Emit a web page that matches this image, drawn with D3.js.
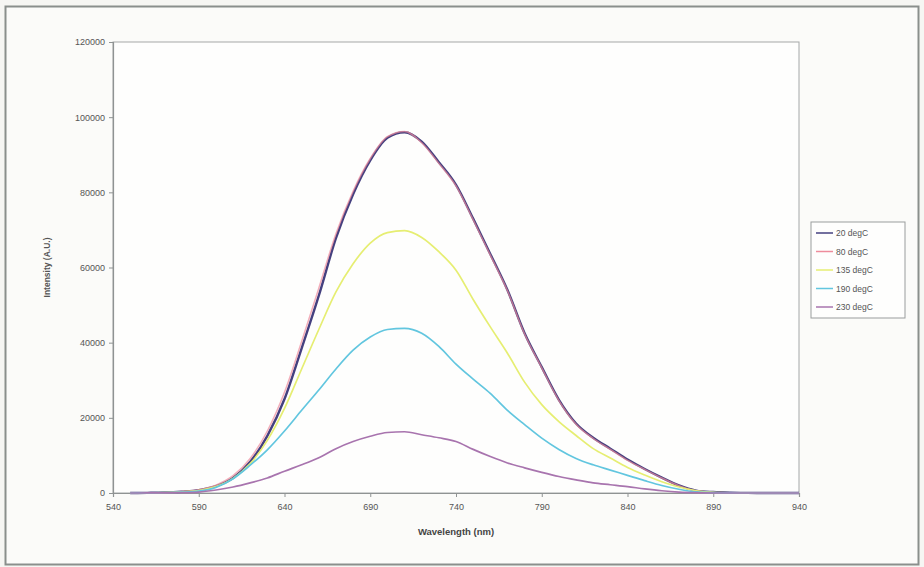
<!DOCTYPE html>
<html><head><meta charset="utf-8">
<script src="https://cdn.jsdelivr.net/npm/d3@7"></script>
<style>
html,body{margin:0;padding:0;background:#f6f6f3;}
svg{display:block;}
text{font-family:"Liberation Sans",Arial,sans-serif;}
</style></head>
<body>
<svg id="chart" width="924" height="567"></svg>
<script>
// ---- data ----
const wavelengths = [550,560,570,580,590,600,610,620,630,640,650,660,670,680,690,700,710,720,730,740,750,760,770,780,790,800,810,820,830,840,850,860,870,880,890,900,910,920,930,940];
const seriesNames = ["20 degC","80 degC","135 degC","190 degC","230 degC"];
const deg20  = [0,40,120,350,750,1800,4000,8300,15200,25000,38500,52500,67800,79500,88500,94500,96000,93500,88000,82000,73000,63600,54000,42500,33500,24800,18500,14700,11800,8900,6400,4100,2000,650,250,80,20,0,0,0];
const deg80  = [0,50,150,420,900,2100,4600,9200,16500,26800,40300,54500,69000,80300,89000,94800,96200,93200,87700,81700,72700,63300,53800,42300,33300,24600,18300,14500,11600,8700,6300,4000,1950,620,230,70,15,0,0,0];
const deg135 = [0,40,110,300,650,1700,3900,7800,14000,22500,33000,43500,53500,61000,66500,69300,69800,68000,64200,59300,51500,44200,37200,29500,23500,19000,15300,11800,9300,6800,4800,3000,1600,600,150,30,0,0,0,0];
const deg190 = [0,30,90,220,500,1500,3800,7400,11500,16500,22000,27400,33000,38000,41500,43500,43800,42500,39000,34300,30300,26500,22000,18200,14600,11600,9200,7500,6100,4700,3300,2000,1000,300,80,10,0,0,0,0];
const deg230 = [0,10,30,100,250,800,1600,2700,4000,5800,7500,9400,11800,13700,15100,16100,16300,15500,14700,13700,11600,9700,8000,6700,5500,4400,3500,2700,2200,1700,1100,600,250,80,0,0,0,0,0,0];
const seriesValues = [deg20,deg80,deg135,deg190,deg230];
const seriesColors = ["#45407f","#ee8c9c","#e6ee72","#62c6df","#a874ae"];
const xTicks = [540,590,640,690,740,790,840,890,940];
const yTicks = [0,20000,40000,60000,80000,100000,120000];

// ---- layout ----
const svg = d3.select("#chart");
const W = 924, H = 567;
const plot = {left:113, right:799, top:42, bottom:493};

svg.append("rect").attr("x",0).attr("y",0).attr("width",W).attr("height",H).attr("fill","#f6f6f3");
svg.append("rect").attr("x",5.5).attr("y",6.5).attr("width",913).attr("height",558)
  .attr("fill","#fbfbf9").attr("stroke","#8a8f8c").attr("stroke-width",2);

const x = d3.scaleLinear().domain([540,940]).range([plot.left,plot.right]);
const y = d3.scaleLinear().domain([0,120000]).range([plot.bottom,plot.top]);

svg.append("rect").attr("x",plot.left).attr("y",plot.top)
  .attr("width",plot.right-plot.left).attr("height",plot.bottom-plot.top)
  .attr("fill","#fefefd").attr("stroke","#a5a8a8").attr("stroke-width",1);

const xAxis = svg.append("g").attr("transform",`translate(0,${plot.bottom})`)
  .call(d3.axisBottom(x).tickValues(xTicks).tickSize(4).tickPadding(7).tickFormat(d3.format("d")));
const yAxis = svg.append("g").attr("transform",`translate(${plot.left},0)`)
  .call(d3.axisLeft(y).tickValues(yTicks).tickSize(4).tickPadding(4).tickFormat(d3.format("d")));
[xAxis,yAxis].forEach(g=>{
  g.select(".domain").attr("stroke","#8f9393").attr("stroke-width",1.2);
  g.selectAll(".tick line").attr("stroke","#8f9393");
  g.selectAll(".tick text").attr("fill","#555").attr("font-size","9px");
});

// lines
const line = d3.line().x((d,i)=>x(wavelengths[i])).y(d=>y(d)).curve(d3.curveMonotoneX);
seriesValues.forEach((vals,i)=>{
  svg.append("path").datum(vals).attr("d",line)
    .attr("fill","none").attr("stroke",seriesColors[i])
    .attr("stroke-width", i===0?2.4:(i===1?1.5:1.7))
    .attr("stroke-opacity", i===1?0.7:1);
});

// titles
svg.append("text").attr("x",(plot.left+plot.right)/2).attr("y",535)
  .attr("text-anchor","middle").attr("font-size","9.5px").attr("font-weight","bold").attr("fill","#444")
  .text("Wavelength (nm)");
svg.append("text").attr("transform",`translate(50,${(plot.top+plot.bottom)/2}) rotate(-90)`)
  .attr("text-anchor","middle").attr("font-size","8.5px").attr("font-weight","bold").attr("fill","#555")
  .text("Intensity (A.U.)");

// legend
const lg = svg.append("g").attr("transform","translate(811,222)");
lg.append("rect").attr("x",0).attr("y",0).attr("width",94).attr("height",96)
  .attr("fill","#fefefd").attr("stroke","#9a9d9d");
seriesNames.forEach((n,i)=>{
  const yy = 11 + i*18.5;
  lg.append("line").attr("x1",5).attr("x2",22).attr("y1",yy).attr("y2",yy)
    .attr("stroke",seriesColors[i]).attr("stroke-width",1.5);
  lg.append("text").attr("x",25).attr("y",yy+3).attr("font-size","8.5px").attr("fill","#555").text(n);
});
</script>
</body></html>
